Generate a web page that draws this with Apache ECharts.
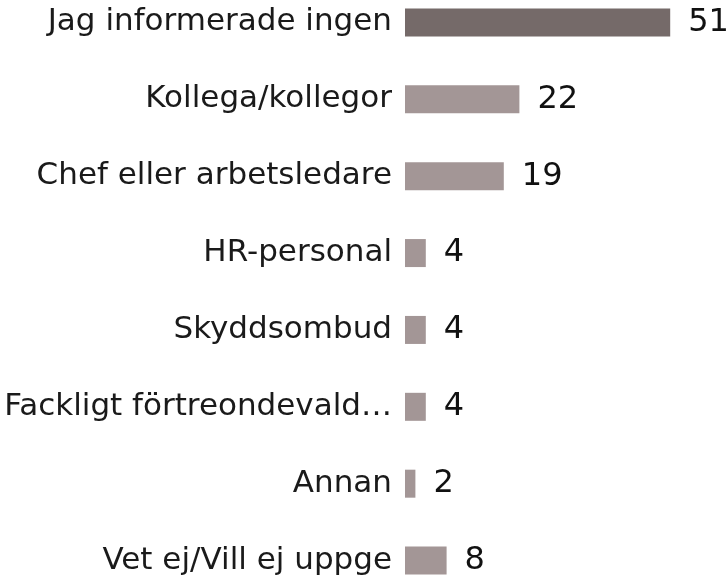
<!DOCTYPE html>
<html><head><meta charset="utf-8">
<script src="https://cdn.jsdelivr.net/npm/echarts@6/dist/echarts.min.js"></script>
<style>html,body{margin:0;padding:0;background:#fff}#c{width:726px;height:576px}</style>
</head><body><div id="c"></div>
<script>
var categories = ["Jag informerade ingen","Kollega/kollegor","Chef eller arbetsledare","HR-personal","Skyddsombud","Fackligt förtreondevald…","Annan","Vet ej/Vill ej uppge"];
var values = [51,22,19,4,4,4,2,8];
var chart = echarts.init(document.getElementById('c'));
chart.setOption({
  animation:false,
  grid:{left:405,right:9,top:-16,height:615,containLabel:false,outerBoundsMode:'none'},
  xAxis:{type:'value',min:0,max:60,show:false},
  yAxis:{type:'category',inverse:true,data:categories,
    axisLine:{show:false},axisTick:{show:false},
    axisLabel:{margin:13,fontFamily:'DejaVu Sans',fontSize:31,color:'#1a1a1a'}},
  series:[{type:'bar',barWidth:28,
    data:values.map(function(v,i){return {value:v,itemStyle:{color:i===0?'#756a69':'#a39696'}};}),
    label:{show:true,position:'right',distance:18,fontFamily:'DejaVu Sans',fontSize:32,color:'#111'}}]
});
</script></body></html>
